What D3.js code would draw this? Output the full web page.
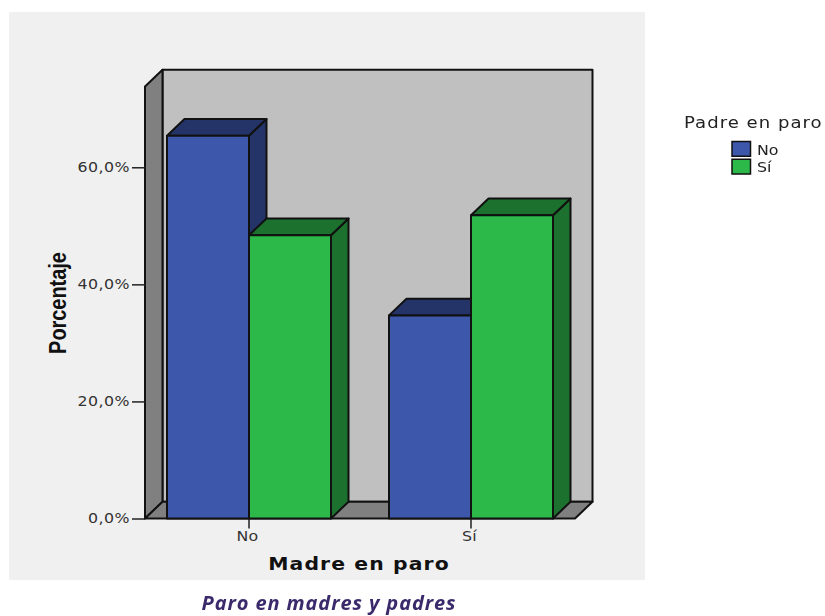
<!DOCTYPE html>
<html>
<head>
<meta charset="utf-8">
<script src="https://cdnjs.cloudflare.com/ajax/libs/d3/7.8.5/d3.min.js"></script>
<style>
  html, body { margin: 0; padding: 0; background: #fff; }
  svg { display: block; filter: blur(0.45px); }
  text { font-family: "DejaVu Sans", sans-serif; }
</style>
</head>
<body>
<svg id="chart" width="825" height="616"></svg>
<script>
'use strict';

const categories = ['No', 'Sí'];
const seriesNames = ['No', 'Sí'];
const seriesNo = [65.4, 34.7];
const seriesSi = [48.4, 51.8];
const yTicks = [0, 20, 40, 60];

const colors = { No: '#3d57ab', 'Sí': '#2db84a' };
const darkColors = { No: '#253468', 'Sí': '#1d712f' };
const lineColor = '#111';

// the 3d offset of the back wall
const depthX = 17.5;
const depthY = 16.7;
// the labels in the picture are stretched sideways
const stretch = 1.13;

const svg = d3.select('#chart');
svg.append('rect').attr('x', 9).attr('y', 12).attr('width', 636).attr('height', 568).attr('fill', '#f0f0f0');

const y = d3.scaleLinear().domain([0, 73.8]).range([518.5, 86.5]);
const x0 = d3.scaleBand().domain(categories).range([138, 582]);
const x1 = d3.scaleBand().domain(seriesNames).range([29, 193]);

const plotLeft = 145;
const plotRight = 575;
const plotBottom = y(0);
const plotTop = y.range()[1];

function poly(parent, pts, fill) {
  return parent
    .append('polygon')
    .attr('points', pts.map(p => p.join(',')).join(' '))
    .attr('fill', fill)
    .attr('stroke', lineColor)
    .attr('stroke-width', 2)
    .attr('stroke-linejoin', 'round');
}

// walls and floor
const walls = svg.append('g');
poly(walls, [[plotLeft + depthX, plotTop - depthY], [plotRight + depthX, plotTop - depthY], [plotRight + depthX, plotBottom - depthY], [plotLeft + depthX, plotBottom - depthY]], '#c0c0c0');
poly(walls, [[plotLeft, plotTop], [plotLeft + depthX, plotTop - depthY], [plotLeft + depthX, plotBottom - depthY], [plotLeft, plotBottom]], '#808080');
poly(walls, [[plotLeft, plotBottom], [plotLeft + depthX, plotBottom - depthY], [plotRight + depthX, plotBottom - depthY], [plotRight, plotBottom]], '#808080');

// bars
const rows = [];
categories.forEach((c, i) => {
  rows.push({ cat: c, series: 'No', value: seriesNo[i] });
  rows.push({ cat: c, series: 'Sí', value: seriesSi[i] });
});

const bars = svg.append('g');
rows.forEach(d => {
  const bx = x0(d.cat) + x1(d.series);
  const bw = x1.bandwidth();
  const by = y(d.value);
  poly(bars, [[bx + bw, by], [bx + bw + depthX, by - depthY], [bx + bw + depthX, plotBottom - depthY], [bx + bw, plotBottom]], darkColors[d.series]);
  poly(bars, [[bx, by], [bx + depthX, by - depthY], [bx + bw + depthX, by - depthY], [bx + bw, by]], darkColors[d.series]);
  poly(bars, [[bx, by], [bx + bw, by], [bx + bw, plotBottom], [bx, plotBottom]], colors[d.series]);
});

// axes
const yAxis = svg.append('g')
  .attr('transform', 'translate(' + plotLeft + ',0)')
  .call(d3.axisLeft(y).tickValues(yTicks).tickSize(13).tickPadding(2)
    .tickFormat(d => d.toFixed(1).replace('.', ',') + '%'));
yAxis.select('.domain').remove();
yAxis.selectAll('line').attr('stroke', '#222').attr('stroke-width', 1.5);
yAxis.selectAll('text')
  .attr('font-size', 14).attr('fill', '#333').attr('font-family', '"DejaVu Sans"')
  .style('letter-spacing', '0.4px')
  .attr('x', -15 / stretch)
  .attr('transform', 'scale(' + stretch + ',1)');

const xAxis = svg.append('g')
  .attr('transform', 'translate(0,' + plotBottom + ')')
  .call(d3.axisBottom(x0).tickSize(10).tickPadding(3));
xAxis.select('.domain').remove();
xAxis.selectAll('line').attr('stroke', '#222').attr('stroke-width', 1.5);
xAxis.selectAll('text')
  .attr('font-size', 14).attr('fill', '#333').attr('font-family', '"DejaVu Sans"')
  .attr('dx', -1.5)
  .attr('transform', 'scale(' + stretch + ',1)');

// axis titles
svg.append('text')
  .attr('transform', 'translate(359,569.5) scale(' + stretch + ',1)')
  .attr('text-anchor', 'middle')
  .attr('font-size', 18).attr('font-weight', 'bold').attr('fill', '#111')
  .style('letter-spacing', '1px')
  .text('Madre en paro');

svg.append('text')
  .attr('transform', 'translate(66,303) rotate(-90) scale(0.83,1)')
  .attr('text-anchor', 'middle')
  .attr('font-size', 24).attr('font-weight', 'bold').attr('fill', '#111')
  .style('font-family', '"Liberation Sans"')
  .text('Porcentaje');

// legend
svg.append('text')
  .attr('transform', 'translate(684,127.5) scale(' + stretch + ',1)')
  .attr('font-size', 16).attr('fill', '#222')
  .style('letter-spacing', '0.9px')
  .text('Padre en paro');

const legend = svg.append('g');
const legendY = d3.scaleBand().domain(seriesNames).range([140.5, 176]);
seriesNames.forEach(s => {
  legend.append('rect')
    .attr('x', 732).attr('y', legendY(s) + 1)
    .attr('width', 18.5).attr('height', legendY.bandwidth() - 3)
    .attr('fill', colors[s]).attr('stroke', lineColor).attr('stroke-width', 1.5);
  legend.append('text')
    .attr('transform', 'translate(757,' + (legendY(s) + 14) + ') scale(' + stretch + ',1)')
    .attr('font-size', 14).attr('fill', '#222')
    .text(s);
});

// caption under the chart
svg.append('text')
  .attr('x', 329).attr('y', 610)
  .attr('text-anchor', 'middle')
  .attr('font-size', 20).attr('font-weight', 'bold').attr('font-style', 'italic')
  .attr('fill', '#3b2a6b')
  .style('font-family', '"Open Sans"')
  .style('letter-spacing', '0.9px')
  .text('Paro en madres y padres');
</script>
</body>
</html>
